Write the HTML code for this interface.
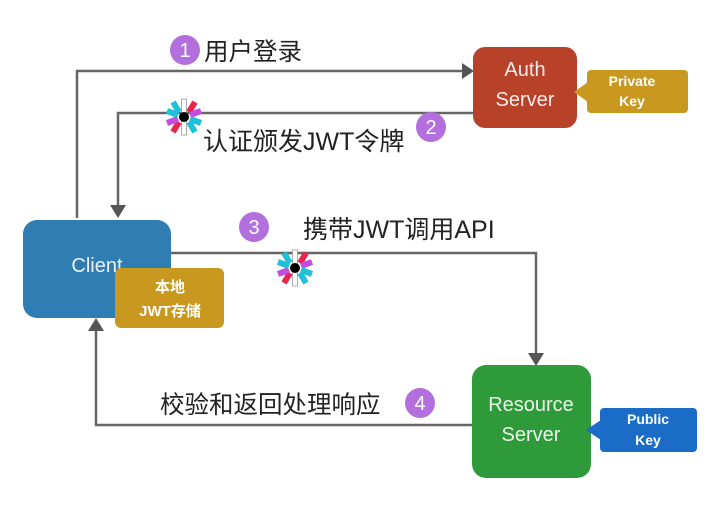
<!DOCTYPE html>
<html><head><meta charset="utf-8"><style>
body{margin:0;background:#fff;width:707px;height:517px;overflow:hidden;font-family:"Liberation Sans","Noto Sans CJK SC",sans-serif}
</style></head><body>
<svg width="707" height="517" xmlns="http://www.w3.org/2000/svg" font-family="Liberation Sans, Noto Sans CJK SC, sans-serif">
<defs>
<g id="jwt">
<rect x="-2.5" y="-18" width="5" height="36" fill="#fff" stroke="#999" stroke-width="0.8"/>
<g stroke-width="6" stroke-linecap="butt">
<line x1="5" y1="-5" x2="11" y2="-15" stroke="#e8254f"/>
<line x1="-5" y1="5" x2="-11" y2="15" stroke="#e8254f"/>
<line x1="6" y1="-2" x2="17" y2="-6" stroke="#c44ce0"/>
<line x1="-6" y1="2" x2="-17" y2="6" stroke="#c44ce0"/>
<line x1="6" y1="2" x2="17" y2="6" stroke="#1fc0d8"/>
<line x1="-6" y1="-2" x2="-17" y2="-6" stroke="#1fc0d8"/>
<line x1="5" y1="5" x2="11" y2="15" stroke="#1fc0d8"/>
<line x1="-5" y1="-5" x2="-11" y2="-15" stroke="#1fc0d8"/>
</g>
<circle r="5" fill="#000"/>
</g>
</defs>
<g stroke="#666" stroke-width="2.5" fill="none">
<polyline points="77,218 77,71 464,71"/>
<polyline points="473,113 118,113 118,208"/>
<polyline points="171,253 536,253 536,356"/>
<polyline points="472,425 96,425 96,328"/>
</g>
<g fill="#555">
<polygon points="474,71 462,63 462,79"/>
<polygon points="118,218 110,205 126,205"/>
<polygon points="536,366 528,353 544,353"/>
<polygon points="96,318 88,331 104,331"/>
</g>
<rect x="473" y="47" width="104" height="81" rx="12" fill="#b8412a"/>
<text x="525" y="76" fill="#fff" font-size="20" text-anchor="middle" opacity=".9">Auth</text>
<text x="525" y="106" fill="#fff" font-size="20" text-anchor="middle" opacity=".9">Server</text>
<rect x="587" y="70" width="101" height="43" rx="4" fill="#c9981f"/>
<polygon points="574,92 588,82 588,102" fill="#c9981f"/>
<text x="632" y="86" fill="#fff" font-size="14" font-weight="bold" text-anchor="middle">Private</text>
<text x="632" y="106" fill="#fff" font-size="14" font-weight="bold" text-anchor="middle">Key</text>
<rect x="23" y="220" width="148" height="98" rx="14" fill="#2f7db3"/>
<text x="97" y="272" fill="#fff" font-size="20" text-anchor="middle" opacity=".9">Client</text>
<rect x="115" y="268" width="109" height="60" rx="6" fill="#c9981f"/>
<text x="170" y="292" fill="#fff" font-size="15" font-weight="bold" text-anchor="middle">本地</text>
<text x="170" y="316" fill="#fff" font-size="15" font-weight="bold" text-anchor="middle">JWT存储</text>
<rect x="472" y="365" width="119" height="113" rx="14" fill="#2e9a3a"/>
<text x="531" y="411" fill="#fff" font-size="20" text-anchor="middle" opacity=".9">Resource</text>
<text x="531" y="441" fill="#fff" font-size="20" text-anchor="middle" opacity=".9">Server</text>
<rect x="600" y="408" width="97" height="44" rx="4" fill="#1a6cc7"/>
<polygon points="586,430 601,420 601,440" fill="#1a6cc7"/>
<text x="648" y="424" fill="#fff" font-size="14" font-weight="bold" text-anchor="middle">Public</text>
<text x="648" y="445" fill="#fff" font-size="14" font-weight="bold" text-anchor="middle">Key</text>
<g fill="#b36fdd">
<circle cx="185" cy="50" r="15"/><circle cx="431" cy="127" r="15"/>
<circle cx="254" cy="227" r="15"/><circle cx="420" cy="403" r="15"/>
</g>
<g fill="#fff" font-size="20" text-anchor="middle">
<text x="185" y="57">1</text><text x="431" y="134">2</text>
<text x="254" y="234">3</text><text x="420" y="410">4</text>
</g>
<g fill="#222" font-size="25">
<text x="204" y="60" font-size="24.5">用户登录</text>
<text x="203" y="150">认证颁发JWT令牌</text>
<text x="303" y="238">携带JWT调用API</text>
<text x="160" y="413" font-size="24.5">校验和返回处理响应</text>
</g>
<use href="#jwt" x="184" y="117"/>
<use href="#jwt" x="295" y="268"/>
</svg>
</body></html>
